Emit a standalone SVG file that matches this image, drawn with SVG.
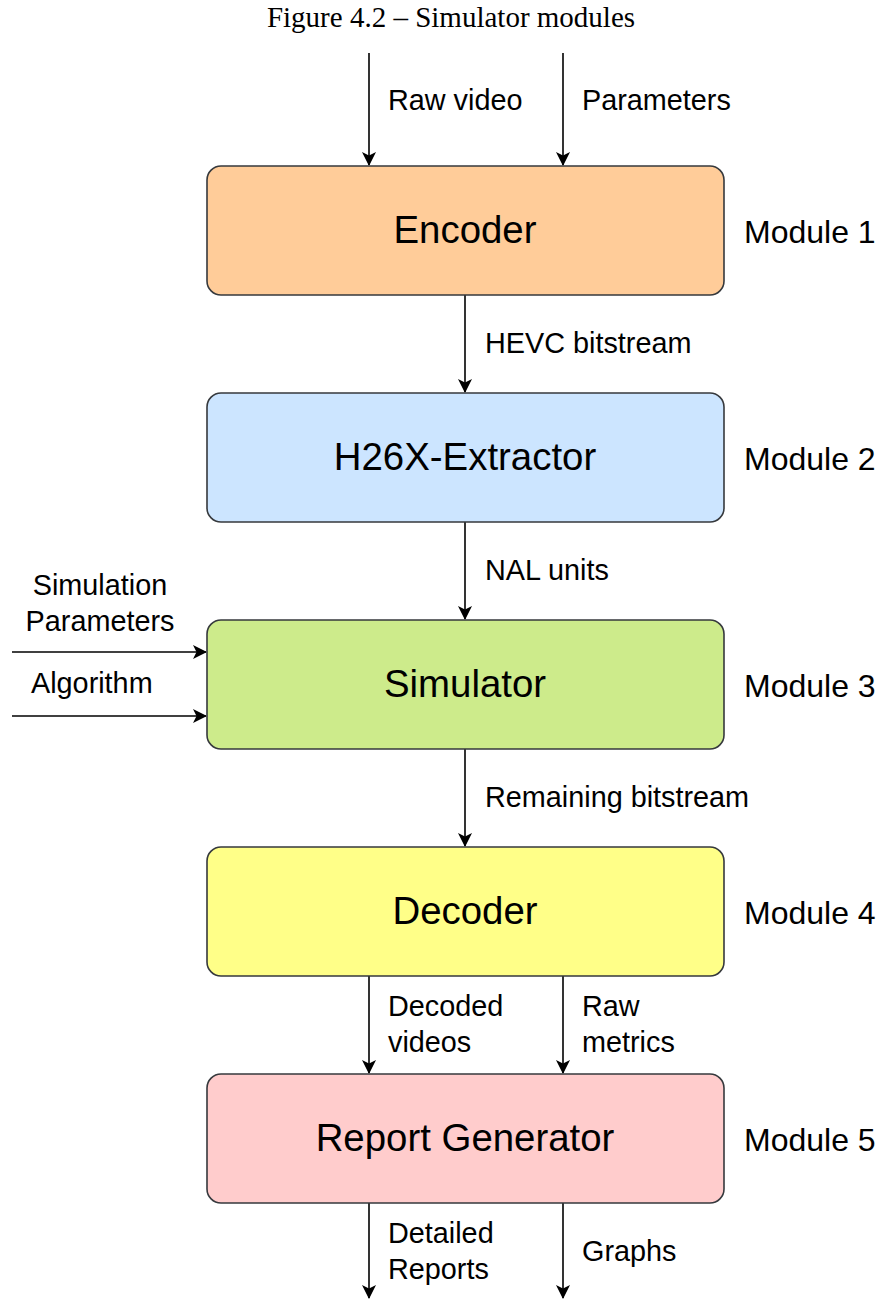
<svg xmlns="http://www.w3.org/2000/svg" width="880" height="1299" viewBox="0 0 880 1299">
  <style>
    .box { stroke: #36393d; stroke-width: 1.6; }
    .big { font-family: "Liberation Sans", Arial, sans-serif; font-size: 38.4px; fill: #000; text-anchor: middle; }
    .lbl { font-family: "Liberation Sans", Arial, sans-serif; font-size: 28.8px; fill: #000; }
    .mod { font-family: "Liberation Sans", Arial, sans-serif; font-size: 32px; fill: #000; }
    .title { font-family: "Liberation Serif", "Times New Roman", serif; font-size: 29px; fill: #000; text-anchor: middle; }
    .edge { stroke: #000; stroke-width: 1.6; fill: none; marker-end: url(#arrow); }
  </style>
  <defs>
    <!-- classic notched arrowhead, fixed size in user units -->
    <marker id="arrow" markerWidth="14" markerHeight="14" refX="13" refY="7" orient="auto" markerUnits="userSpaceOnUse" viewBox="0 0 14 14">
      <path d="M0,0 L14,7 L0,14 L3.5,7 Z" fill="#000"/>
    </marker>
  </defs>

  <text class="title" x="451" y="27">Figure 4.2 – Simulator modules</text>

  <g id="connectors">
    <line class="edge" x1="369" y1="53" x2="369" y2="165"/>
    <line class="edge" x1="563" y1="53" x2="563" y2="165"/>
    <line class="edge" x1="465" y1="295" x2="465" y2="392"/>
    <line class="edge" x1="465" y1="522" x2="465" y2="619"/>
    <line class="edge" x1="12" y1="652" x2="206" y2="652"/>
    <line class="edge" x1="12" y1="716" x2="206" y2="716"/>
    <line class="edge" x1="465" y1="749" x2="465" y2="846"/>
    <line class="edge" x1="369" y1="976" x2="369" y2="1073"/>
    <line class="edge" x1="563" y1="976" x2="563" y2="1073"/>
    <line class="edge" x1="369" y1="1203" x2="369" y2="1298"/>
    <line class="edge" x1="563" y1="1203" x2="563" y2="1298"/>

    <text class="lbl" x="388" y="110">Raw video</text>
    <text class="lbl" x="582" y="110">Parameters</text>
    <text class="lbl" x="485" y="353">HEVC bitstream</text>
    <text class="lbl" x="485" y="580">NAL units</text>
    <text class="lbl" x="100" y="595" text-anchor="middle">Simulation</text>
    <text class="lbl" x="100" y="631" text-anchor="middle">Parameters</text>
    <text class="lbl" x="31" y="693">Algorithm</text>
    <text class="lbl" x="485" y="807">Remaining bitstream</text>
    <text class="lbl" x="388" y="1016">Decoded</text>
    <text class="lbl" x="388" y="1052">videos</text>
    <text class="lbl" x="582" y="1016">Raw</text>
    <text class="lbl" x="582" y="1052">metrics</text>
    <text class="lbl" x="388" y="1243">Detailed</text>
    <text class="lbl" x="388" y="1279">Reports</text>
    <text class="lbl" x="582" y="1261">Graphs</text>
  </g>

  <g id="encoder">
    <rect class="box" x="207" y="166" width="517" height="129" rx="14" fill="#ffcc99"/>
    <text class="big" x="465" y="243">Encoder</text>
    <text class="mod" x="744" y="243">Module 1</text>
  </g>

  <g id="extractor">
    <rect class="box" x="207" y="393" width="517" height="129" rx="14" fill="#cce5ff"/>
    <text class="big" x="465" y="470">H26X-Extractor</text>
    <text class="mod" x="744" y="470">Module 2</text>
  </g>

  <g id="simulator">
    <rect class="box" x="207" y="620" width="517" height="129" rx="14" fill="#cdeb8b"/>
    <text class="big" x="465" y="697">Simulator</text>
    <text class="mod" x="744" y="697">Module 3</text>
  </g>

  <g id="decoder">
    <rect class="box" x="207" y="847" width="517" height="129" rx="14" fill="#ffff88"/>
    <text class="big" x="465" y="924">Decoder</text>
    <text class="mod" x="744" y="924">Module 4</text>
  </g>

  <g id="report-generator">
    <rect class="box" x="207" y="1074" width="517" height="129" rx="14" fill="#ffcccc"/>
    <text class="big" x="465" y="1151">Report Generator</text>
    <text class="mod" x="744" y="1151">Module 5</text>
  </g>
</svg>
